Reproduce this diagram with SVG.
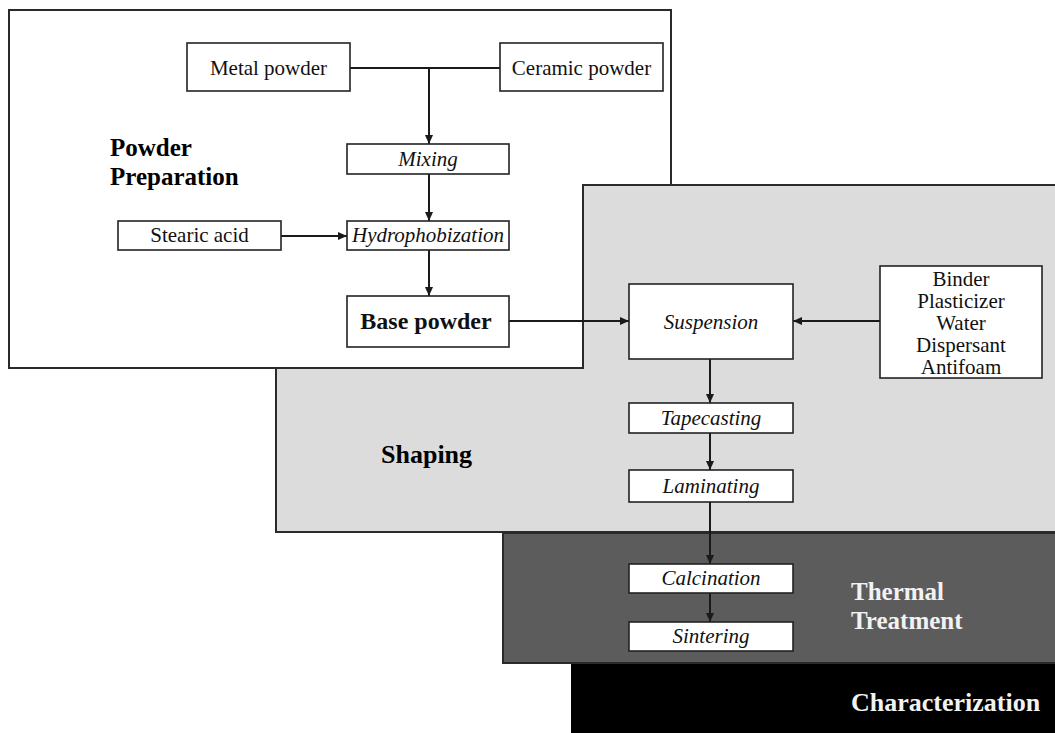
<svg xmlns="http://www.w3.org/2000/svg" width="1055" height="733" viewBox="0 0 1055 733">
<style>
.panel{stroke:#2a2a2a;stroke-width:2}
.box{fill:#fff;stroke:#222;stroke-width:1.6}
.t{font-family:"Liberation Serif","Times New Roman",serif;font-size:21px;fill:#111;text-anchor:middle}
.i{font-style:italic}
.b{font-weight:bold}
.h{font-family:"Liberation Serif","Times New Roman",serif;font-size:26px;font-weight:bold;fill:#000}
.hw{fill:#f2f2f2}
.c{stroke:#1a1a1a;stroke-width:2;fill:none}
.ca{stroke:#1a1a1a;stroke-width:2;fill:none;marker-end:url(#ah)}
</style>
<defs>
<marker id="ah" markerUnits="userSpaceOnUse" markerWidth="10" markerHeight="8" refX="9" refY="4" orient="auto">
<path d="M0,0 L9,4 L0,8 z" fill="#1a1a1a"/>
</marker>
</defs>
<g id="panel-characterization">
<rect x="571" y="663" width="490" height="80" fill="#000"/>
<text class="h hw" x="851" y="711">Characterization</text>
</g>
<g id="panel-thermal">
<rect class="panel" x="503" y="533" width="560" height="130" fill="#5c5c5c"/>
<text class="h hw" x="851" y="600" style="font-size:25px">Thermal</text>
<text class="h hw" x="851" y="629" style="font-size:25px">Treatment</text>
</g>
<g id="panel-shaping">
<rect class="panel" x="276" y="185" width="785" height="347" fill="#dcdcdc"/>
<text class="h" x="381" y="463">Shaping</text>
</g>
<g id="panel-powder">
<path class="panel" d="M9,10 H671 V185 H583 V368 H9 Z" fill="#fff"/>
<text class="h" x="110" y="156" style="font-size:25px">Powder</text>
<text class="h" x="110" y="185" style="font-size:25px">Preparation</text>
</g>
<g id="connectors">
<path class="c" d="M350,68 H500"/>
<path class="ca" d="M429,68 V144"/>
<path class="ca" d="M429,174 V221"/>
<path class="ca" d="M281,236 H347"/>
<path class="ca" d="M429,250 V296"/>
<path class="ca" d="M509,321 H629"/>
<path class="ca" d="M880,321 H793"/>
<path class="ca" d="M710,359 V403"/>
<path class="ca" d="M710,433 V470"/>
<path class="ca" d="M710,502 V564"/>
<path class="ca" d="M710,593 V622"/>
</g>
<g id="metal-powder">
<rect class="box" x="187" y="43" width="163" height="48"/>
<text class="t" x="268.5" y="75">Metal powder</text>
</g>
<g id="ceramic-powder">
<rect class="box" x="500" y="43" width="163" height="48"/>
<text class="t" x="581.5" y="75">Ceramic powder</text>
</g>
<g id="mixing">
<rect class="box" x="347" y="144" width="162" height="30"/>
<text class="t i" x="428" y="166">Mixing</text>
</g>
<g id="stearic-acid">
<rect class="box" x="118" y="221" width="163" height="29"/>
<text class="t" x="199.5" y="242">Stearic acid</text>
</g>
<g id="hydrophobization">
<rect class="box" x="347" y="221" width="162" height="29"/>
<text class="t i" x="428" y="242">Hydrophobization</text>
</g>
<g id="base-powder">
<rect class="box" x="347" y="296" width="162" height="51"/>
<text class="t b" x="426" y="329" style="font-size:24px">Base powder</text>
</g>
<g id="suspension">
<rect class="box" x="629" y="284" width="164" height="75"/>
<text class="t i" x="711" y="329">Suspension</text>
</g>
<g id="additives">
<rect class="box" x="880" y="266" width="162" height="112"/>
<text class="t" x="961" y="286">Binder</text>
<text class="t" x="961" y="308">Plasticizer</text>
<text class="t" x="961" y="330">Water</text>
<text class="t" x="961" y="352">Dispersant</text>
<text class="t" x="961" y="374">Antifoam</text>
</g>
<g id="tapecasting">
<rect class="box" x="629" y="403" width="164" height="30"/>
<text class="t i" x="711" y="425">Tapecasting</text>
</g>
<g id="laminating">
<rect class="box" x="629" y="470" width="164" height="32"/>
<text class="t i" x="711" y="493">Laminating</text>
</g>
<g id="calcination">
<rect class="box" x="629" y="564" width="164" height="29"/>
<text class="t i" x="711" y="585">Calcination</text>
</g>
<g id="sintering">
<rect class="box" x="629" y="622" width="164" height="29"/>
<text class="t i" x="711" y="643">Sintering</text>
</g>
</svg>
